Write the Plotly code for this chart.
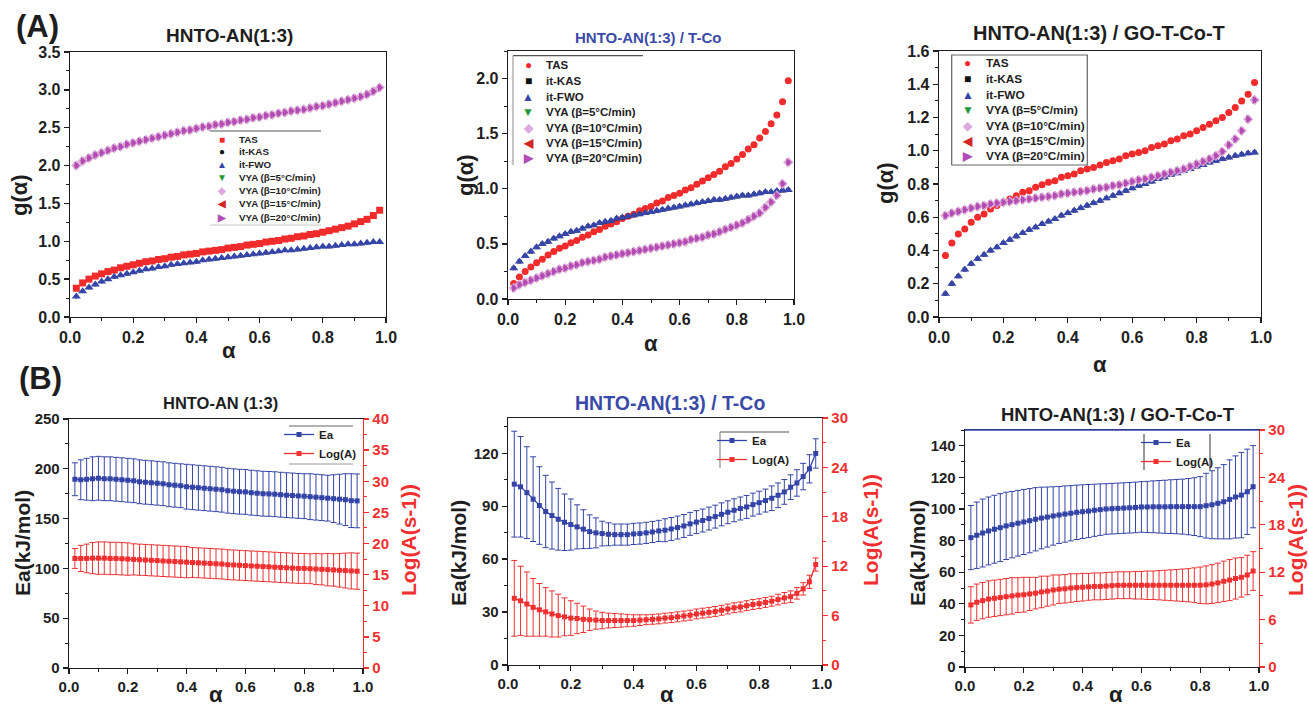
import plotly.graph_objects as go

# ---------------------------------------------------------------- data
alpha = [0.02, 0.04, 0.06, 0.08, 0.10, 0.12, 0.14, 0.16, 0.18, 0.20,
         0.22, 0.24, 0.26, 0.28, 0.30, 0.32, 0.34, 0.36, 0.38, 0.40,
         0.42, 0.44, 0.46, 0.48, 0.50, 0.52, 0.54, 0.56, 0.58, 0.60,
         0.62, 0.64, 0.66, 0.68, 0.70, 0.72, 0.74, 0.76, 0.78, 0.80,
         0.82, 0.84, 0.86, 0.88, 0.90, 0.92, 0.94, 0.96, 0.98]

# (A) HNTO-AN(1:3)
a1_tas = [0.38, 0.45, 0.50, 0.54, 0.57, 0.60, 0.62, 0.65, 0.67, 0.69,
          0.71, 0.73, 0.74, 0.76, 0.77, 0.79, 0.80, 0.82, 0.83, 0.84,
          0.86, 0.87, 0.88, 0.89, 0.91, 0.92, 0.93, 0.95, 0.96, 0.97,
          0.99, 1.00, 1.01, 1.03, 1.04, 1.06, 1.07, 1.09, 1.10, 1.12,
          1.14, 1.16, 1.18, 1.20, 1.23, 1.26, 1.29, 1.34, 1.41]
a1_fwo = [0.27, 0.34, 0.39, 0.43, 0.47, 0.50, 0.53, 0.55, 0.57, 0.59,
          0.61, 0.63, 0.64, 0.66, 0.67, 0.69, 0.70, 0.71, 0.72, 0.73,
          0.75, 0.76, 0.77, 0.78, 0.79, 0.80, 0.81, 0.82, 0.83, 0.84,
          0.85, 0.86, 0.87, 0.88, 0.88, 0.89, 0.90, 0.91, 0.92, 0.93,
          0.93, 0.94, 0.95, 0.96, 0.96, 0.97, 0.98, 0.99, 0.99]
a1_kas = list(a1_fwo)      # it-KAS points sit exactly under it-FWO
a1_vya = [2.00, 2.06, 2.10, 2.14, 2.17, 2.20, 2.23, 2.25, 2.28, 2.30,
          2.32, 2.34, 2.36, 2.38, 2.40, 2.42, 2.44, 2.46, 2.47, 2.49,
          2.51, 2.52, 2.54, 2.55, 2.57, 2.58, 2.60, 2.61, 2.63, 2.64,
          2.66, 2.67, 2.69, 2.70, 2.72, 2.73, 2.74, 2.76, 2.78, 2.79,
          2.81, 2.83, 2.85, 2.87, 2.89, 2.91, 2.94, 2.98, 3.03]

# (A) HNTO-AN(1:3) / T-Co
a2_tas = [0.14, 0.20, 0.25, 0.29, 0.33, 0.36, 0.40, 0.43, 0.46, 0.48,
          0.51, 0.53, 0.56, 0.58, 0.61, 0.63, 0.66, 0.68, 0.70, 0.73,
          0.75, 0.77, 0.80, 0.82, 0.84, 0.87, 0.89, 0.92, 0.94, 0.96,
          0.99, 1.01, 1.04, 1.07, 1.10, 1.13, 1.16, 1.20, 1.23, 1.27,
          1.31, 1.36, 1.40, 1.46, 1.52, 1.59, 1.67, 1.79, 1.98]
a2_fwo = [0.28, 0.34, 0.39, 0.43, 0.47, 0.50, 0.52, 0.55, 0.57, 0.59,
          0.61, 0.62, 0.64, 0.66, 0.67, 0.69, 0.70, 0.71, 0.73, 0.74,
          0.75, 0.76, 0.77, 0.78, 0.79, 0.80, 0.81, 0.82, 0.83, 0.84,
          0.85, 0.86, 0.87, 0.88, 0.89, 0.90, 0.90, 0.91, 0.92, 0.93,
          0.94, 0.94, 0.95, 0.96, 0.97, 0.97, 0.98, 0.985, 0.99]
a2_kas = list(a2_fwo)
a2_vya = [0.10, 0.13, 0.15, 0.17, 0.19, 0.21, 0.23, 0.25, 0.27, 0.28,
          0.30, 0.31, 0.33, 0.34, 0.35, 0.36, 0.38, 0.39, 0.40, 0.41,
          0.42, 0.43, 0.44, 0.45, 0.46, 0.47, 0.48, 0.49, 0.50, 0.51,
          0.52, 0.54, 0.55, 0.56, 0.58, 0.59, 0.61, 0.63, 0.65, 0.67,
          0.69, 0.72, 0.75, 0.78, 0.83, 0.88, 0.94, 1.045, 1.24]

# (A) HNTO-AN(1:3) / GO-T-Co-T
a3_tas = [0.37, 0.445, 0.50, 0.53, 0.57, 0.60, 0.62, 0.65, 0.67, 0.69,
          0.71, 0.73, 0.75, 0.76, 0.78, 0.795, 0.81, 0.82, 0.84, 0.85,
          0.86, 0.88, 0.89, 0.90, 0.915, 0.93, 0.94, 0.95, 0.97, 0.98,
          0.99, 1.00, 1.02, 1.03, 1.04, 1.06, 1.07, 1.09, 1.10, 1.12,
          1.14, 1.16, 1.18, 1.20, 1.23, 1.26, 1.30, 1.34, 1.41]
a3_fwo = [0.14, 0.20, 0.245, 0.285, 0.32, 0.35, 0.375, 0.40, 0.42, 0.445,
          0.465, 0.485, 0.505, 0.525, 0.54, 0.56, 0.575, 0.59, 0.61, 0.625,
          0.64, 0.655, 0.67, 0.685, 0.70, 0.715, 0.73, 0.745, 0.76, 0.775,
          0.79, 0.80, 0.815, 0.83, 0.84, 0.855, 0.865, 0.88, 0.89, 0.905,
          0.915, 0.93, 0.94, 0.95, 0.96, 0.97, 0.978, 0.985, 0.99]
a3_kas = list(a3_fwo)
a3_vya = [0.61, 0.625, 0.635, 0.645, 0.655, 0.665, 0.67, 0.68, 0.685, 0.69,
          0.695, 0.70, 0.705, 0.71, 0.715, 0.72, 0.725, 0.73, 0.74, 0.745,
          0.75, 0.755, 0.76, 0.77, 0.775, 0.78, 0.79, 0.795, 0.805, 0.815,
          0.825, 0.83, 0.84, 0.85, 0.86, 0.87, 0.88, 0.89, 0.905, 0.92,
          0.935, 0.95, 0.97, 0.995, 1.035, 1.07, 1.12, 1.19, 1.305]

# (B) HNTO-AN (1:3)
b1_ea = [189.5, 189, 189.5, 190, 190.5, 190, 190, 189.5, 189, 188.5,
         188, 187, 186.5, 186, 185.5, 185, 184, 183.5, 183, 182,
         181.5, 181, 180.5, 180, 179.5, 179, 178, 177.5, 177, 176.8,
         176, 175.5, 175, 174.8, 174.5, 174, 173.5, 173.2, 172.8, 172.5,
         172, 171.5, 171, 170.5, 170, 169.5, 169, 168, 167.8]
b1_ea_err = [16.5, 20, 21, 22, 22, 22, 22, 22, 22, 22,
             22, 22, 22, 22, 22, 22, 22, 22, 22, 22.5,
             22.5, 22.5, 22.5, 22.5, 22.5, 22.5, 22.5, 22.5, 22.5, 22.5,
             22.5, 22.5, 22.5, 22.5, 22.5, 22.5, 22.5, 22.5, 22.5, 22.5,
             23, 23, 23, 23, 24, 25, 26, 27, 27]
b1_loga = [17.6, 17.6, 17.6, 17.65, 17.65, 17.65, 17.6, 17.6, 17.55, 17.5,
           17.45, 17.4, 17.35, 17.3, 17.25, 17.2, 17.15, 17.1, 17.05, 17.0,
           16.95, 16.9, 16.85, 16.8, 16.75, 16.7, 16.6, 16.55, 16.5, 16.45,
           16.4, 16.35, 16.3, 16.25, 16.2, 16.15, 16.1, 16.05, 16.0, 16.0,
           15.95, 15.9, 15.85, 15.8, 15.75, 15.7, 15.65, 15.6, 15.55]
b1_loga_err = [1.6, 2.1, 2.3, 2.5, 2.6, 2.6, 2.6, 2.6, 2.6, 2.6,
               2.5, 2.5, 2.5, 2.5, 2.5, 2.5, 2.5, 2.5, 2.5, 2.5,
               2.4, 2.4, 2.4, 2.4, 2.4, 2.4, 2.4, 2.4, 2.4, 2.4,
               2.4, 2.4, 2.4, 2.4, 2.4, 2.4, 2.4, 2.4, 2.4, 2.4,
               2.4, 2.5, 2.5, 2.6, 2.6, 2.7, 2.8, 2.9, 2.9]

# (B) HNTO-AN(1:3) / T-Co
b2_ea = [102.5, 101, 97.7, 94, 90.4, 87, 84.7, 82.6, 80.9, 79.6,
         78.3, 77, 75.6, 74.9, 74.5, 74.1, 73.9, 73.9, 73.9, 74.3,
         74.5, 74.9, 75.4, 76, 76.4, 77.1, 77.9, 78.8, 80, 81,
         81.9, 83, 84.1, 85.4, 86.6, 87.7, 88.7, 89.6, 90.9, 92,
         93.2, 94.5, 96.2, 98.1, 100.8, 103.2, 106.8, 111.2, 119.9]
b2_ea_err = [30, 28.5, 26, 24, 22, 20.5, 19, 17.5, 16, 14.5,
             12.5, 11, 9.5, 8.5, 7, 6.5, 6, 6, 6, 6,
             6, 6, 6, 6, 6.5, 6.5, 6.5, 6.5, 6.5, 6.5,
             6.5, 6.5, 6.5, 6.5, 6.5, 6.5, 6.5, 6.5, 6.5, 6.5,
             6.5, 7, 7, 7, 7, 7.5, 7.5, 8, 8.3]
b2_loga = [8.1, 7.8, 7.4, 7.0, 6.7, 6.45, 6.2, 6.0, 5.85, 5.7,
           5.65, 5.55, 5.5, 5.45, 5.4, 5.4, 5.4, 5.4, 5.4, 5.4,
           5.45, 5.5, 5.55, 5.6, 5.7, 5.75, 5.85, 5.95, 6.05, 6.2,
           6.3, 6.4, 6.5, 6.65, 6.8, 6.95, 7.05, 7.2, 7.35, 7.45,
           7.6, 7.75, 7.95, 8.15, 8.3, 8.7, 9.25, 10.1, 12.2]
b2_loga_err = [4.6, 4.2, 3.9, 3.5, 3.2, 2.95, 2.8, 2.6, 2.3, 2.1,
               1.85, 1.6, 1.3, 1.1, 1.0, 0.9, 0.85, 0.8, 0.75, 0.7,
               0.65, 0.6, 0.6, 0.6, 0.6, 0.6, 0.6, 0.6, 0.6, 0.6,
               0.6, 0.6, 0.6, 0.6, 0.6, 0.6, 0.6, 0.6, 0.6, 0.6,
               0.6, 0.6, 0.65, 0.65, 0.7, 0.7, 0.75, 0.8, 0.8]

# (B) HNTO-AN(1:3) / GO-T-Co-T
b3_ea = [81.9, 83.4, 84.8, 86.1, 87.2, 88.2, 89.3, 90.1, 91, 91.8,
         92.6, 93.5, 94.3, 94.9, 95.6, 96.2, 96.8, 97.3, 97.9, 98.3,
         98.7, 99.2, 99.6, 100, 100.2, 100.4, 100.6, 100.8, 101, 101.3,
         101.3, 101.4, 101.4, 101.4, 101.5, 101.5, 101.5, 101.5, 101.5, 101.5,
         102.1, 102.7, 103.6, 104.6, 106.1, 107.6, 108.8, 110.9, 114.1]
b3_ea_err = [20.3, 21, 21.5, 21.5, 21.5, 21.5, 21.3, 21, 20.8, 20.6,
             20.3, 20, 19.5, 19, 18.5, 18, 17.8, 17.5, 17.2, 17,
             16.8, 16.5, 16.3, 16, 16, 16, 16, 16, 16, 16,
             16.2, 16.4, 16.6, 16.8, 17, 17.2, 17.4, 17.8, 18.3, 19,
             20.5, 21.5, 22.5, 23.5, 25, 26, 27, 27, 26]
b3_loga = [7.86, 8.2, 8.4, 8.6, 8.7, 8.8, 8.9, 9.0, 9.1, 9.15,
           9.25, 9.35, 9.5, 9.6, 9.75, 9.85, 9.9, 10.0, 10.05, 10.1,
           10.15, 10.2, 10.2, 10.25, 10.3, 10.35, 10.35, 10.35, 10.35, 10.35,
           10.35, 10.35, 10.35, 10.35, 10.35, 10.35, 10.35, 10.35, 10.35, 10.35,
           10.4, 10.5, 10.65, 10.85, 11.0, 11.2, 11.35, 11.65, 12.15]
b3_loga_err = [2.3, 2.3, 2.3, 2.3, 2.3, 2.3, 2.3, 2.3, 2.2, 2.2,
               2.1, 2.0, 2.0, 1.9, 1.9, 1.8, 1.8, 1.8, 1.75, 1.75,
               1.7, 1.7, 1.7, 1.7, 1.7, 1.7, 1.7, 1.7, 1.75, 1.75,
               1.8, 1.8, 1.85, 1.9, 1.95, 2.0, 2.05, 2.1, 2.2, 2.3,
               2.4, 2.45, 2.5, 2.55, 2.6, 2.6, 2.5, 2.5, 2.45]

series_names = ["TAS", "it-KAS", "it-FWO", "VYA (β=5°C/min)", "VYA (β=10°C/min)",
                "VYA (β=15°C/min)", "VYA (β=20°C/min)"]
titles_a = ["HNTO-AN(1:3)", "HNTO-AN(1:3) / T-Co", "HNTO-AN(1:3) / GO-T-Co-T"]
titles_b = ["HNTO-AN (1:3)", "HNTO-AN(1:3) / T-Co", "HNTO-AN(1:3) / GO-T-Co-T"]

# ---------------------------------------------------------------- style
W, H = 1309, 707
FONT = "Liberation Sans, Arial, Helvetica, sans-serif"
AX = "#1e1e1e"
RED = "#f02b2b"
BLACK = "#111111"
BLUE = "#3545a8"
GREEN = "#1f9a3a"
PINK = "#dba9dc"
RED2 = "#d42626"
PURPLE = "#b04cb8"
TITLE_BLUE = "#3a4aa8"
EA_BLUE = "#3444a6"
LA_RED = "#f03030"
colors_a = [RED, BLACK, BLUE, GREEN, PINK, RED2, PURPLE]
sizes_a = [7, 4, 8, 5, 8, 5, 7]
syms_1 = ["square", "circle", "triangle-up", "triangle-down", "diamond", "triangle-left", "triangle-right"]
syms_23 = ["circle", "square", "triangle-up", "triangle-down", "diamond", "triangle-left", "triangle-right"]
glyph = {"square": "■", "circle": "●", "triangle-up": "▲", "triangle-down": "▼",
         "diamond": "◆", "triangle-left": "◀", "triangle-right": "▶"}


def fx(p):
    return p / W


def fy(p):
    return 1 - p / H


fig = go.Figure()

# ---------------------------------------------------------------- (A) traces
panels_a = [
    ("x", "y", [a1_tas, a1_kas, a1_fwo, a1_vya, a1_vya, a1_vya, a1_vya], syms_1),
    ("x2", "y2", [a2_tas, a2_kas, a2_fwo, a2_vya, a2_vya, a2_vya, a2_vya], syms_23),
    ("x3", "y3", [a3_tas, a3_kas, a3_fwo, a3_vya, a3_vya, a3_vya, a3_vya], syms_23),
]
for xa, ya, series, syms in panels_a:
    for name, vals, sym, col, size in zip(series_names, series, syms, colors_a, sizes_a):
        fig.add_trace(go.Scatter(
            x=alpha, y=vals, mode="markers", name=name, xaxis=xa, yaxis=ya,
            showlegend=False,
            marker=dict(symbol=sym, size=size, color=col, line=dict(width=0))))

# ---------------------------------------------------------------- (B) traces
panels_b = [
    ("x4", "y4", "y7", b1_ea, b1_ea_err, b1_loga, b1_loga_err, "legend"),
    ("x5", "y5", "y8", b2_ea, b2_ea_err, b2_loga, b2_loga_err, "legend2"),
    ("x6", "y6", "y9", b3_ea, b3_ea_err, b3_loga, b3_loga_err, "legend3"),
]
for xa, ya, ya2, ea, eae, la, lae, leg in panels_b:
    fig.add_trace(go.Scatter(
        x=alpha, y=ea, name="Ea", mode="lines+markers", xaxis=xa, yaxis=ya, legend=leg,
        line=dict(color=EA_BLUE, width=1.3),
        marker=dict(symbol="square", size=5, color=EA_BLUE),
        error_y=dict(type="data", array=eae, visible=True, color=EA_BLUE, thickness=1, width=3)))
    fig.add_trace(go.Scatter(
        x=alpha, y=la, name="Log(A)", mode="lines+markers", xaxis=xa, yaxis=ya2, legend=leg,
        line=dict(color=LA_RED, width=1.3),
        marker=dict(symbol="square", size=5, color=LA_RED),
        error_y=dict(type="data", array=lae, visible=True, color=LA_RED, thickness=1, width=3)))


# ---------------------------------------------------------------- axes
def axis(rng, dtick, mdtick, fmt, size, color=AX, mirror=True, **kw):
    d = dict(range=rng, dtick=dtick, tick0=0, tickformat=fmt, automargin=False,
             showline=True, linecolor=color, linewidth=1.3, mirror=mirror,
             ticks="outside", ticklen=5, tickwidth=1.3, tickcolor=color,
             showgrid=False, zeroline=False, fixedrange=True,
             tickfont=dict(family=FONT, size=size, color=color, weight="bold"),
             minor=dict(dtick=mdtick, tick0=0, ticks="outside", ticklen=3,
                        tickwidth=1, tickcolor=color, showgrid=False))
    d.update(kw)
    return d


def xdom(a, b):
    return [fx(a), fx(b)]


def ydom(top, bottom):
    return [fy(bottom), fy(top)]


layout = dict(
    template="none",
    width=W, height=H, margin=dict(l=0, r=0, t=0, b=0, pad=0, autoexpand=False),
    paper_bgcolor="white", plot_bgcolor="white", showlegend=True,
    font=dict(family=FONT, color=AX),
    xaxis=axis([0, 1.0], 0.2, 0.1, ".1f", 16, domain=xdom(70, 386), anchor="y"),
    yaxis=axis([0, 3.5], 0.5, 0.25, ".1f", 16, domain=ydom(52, 317), anchor="x"),
    xaxis2=axis([0, 1.0], 0.2, 0.1, ".1f", 16, domain=xdom(508, 794), anchor="y2"),
    yaxis2=axis([0, 2.25], 0.5, 0.25, ".1f", 16, domain=ydom(51, 299), anchor="x2"),
    xaxis3=axis([0, 1.0], 0.2, 0.1, ".1f", 16, domain=xdom(939, 1261), anchor="y3"),
    yaxis3=axis([0, 1.6], 0.2, 0.1, ".1f", 16, domain=ydom(51, 317), anchor="x3"),
    xaxis4=axis([0, 1.0], 0.2, 0.1, ".1f", 15, domain=xdom(69, 363), anchor="y4"),
    yaxis4=axis([0, 250], 50, 25, "d", 15, mirror=False, domain=ydom(419, 668), anchor="x4"),
    yaxis7=axis([0, 40], 5, 2.5, "d", 15, color=LA_RED, mirror=False,
                overlaying="y4", side="right", anchor="x4"),
    xaxis5=axis([0, 1.0], 0.2, 0.1, ".1f", 15, domain=xdom(508, 822), anchor="y5"),
    yaxis5=axis([0, 140], 30, 15, "d", 15, mirror=False, domain=ydom(418, 665), anchor="x5"),
    yaxis8=axis([0, 30], 6, 3, "d", 15, color=LA_RED, mirror=False,
                overlaying="y5", side="right", anchor="x5"),
    xaxis6=axis([0, 1.0], 0.2, 0.1, ".1f", 15, domain=xdom(965, 1259), anchor="y6"),
    yaxis6=axis([0, 150], 20, 10, "d", 15, mirror=False, domain=ydom(430, 667), anchor="x6"),
    yaxis9=axis([0, 30], 6, 3, "d", 15, color=LA_RED, mirror=False,
                overlaying="y6", side="right", anchor="x6"),
)

leg_common = dict(xanchor="left", yanchor="top", bgcolor="rgba(255,255,255,0)",
                  borderwidth=0, itemwidth=30,
                  font=dict(family=FONT, size=11.5, color=AX, weight="bold"))
layout["legend"] = dict(x=fx(279), y=fy(420), **leg_common)
layout["legend2"] = dict(x=fx(712), y=fy(426), **leg_common)
layout["legend3"] = dict(x=fx(1136), y=fy(428), **leg_common)

# ---------------------------------------------------------------- text
ann = []


def text(t, x, y, size, color=AX, angle=0, xanchor="center", weight="bold"):
    ann.append(dict(text=t, x=fx(x), y=fy(y), xref="paper", yref="paper",
                    showarrow=False, xanchor=xanchor, yanchor="middle", textangle=angle,
                    font=dict(family=FONT, size=size, color=color, weight=weight)))


text("(A)", 37, 26, 31)
text("(B)", 40, 378, 31)

text(titles_a[0], 229, 35, 19)
text(titles_a[1], 648, 37, 15, color=TITLE_BLUE)
text(titles_a[2], 1099, 33, 20)
text(titles_b[0], 220, 403, 16.5)
text(titles_b[1], 670, 403, 19.5, color=TITLE_BLUE)
text(titles_b[2], 1118, 415, 18.5)

for xc, yc in [(20, 195), (465, 175), (886, 183)]:
    text("g(α)", xc, yc, 22, angle=-90)
for xc, yc in [(229, 350), (651, 343), (1100, 365), (216, 694), (667, 694), (1116, 694)]:
    text("α", xc, yc, 22)
for xc, yc in [(22, 543), (458, 553), (917, 553)]:
    text("Ea(kJ/mol)", xc, yc, 21, angle=-90)
for xc, yc in [(408, 540), (870, 530), (1295, 540)]:
    text("Log(A(s-1))", xc, yc, 21, color=LA_RED, angle=-90)

# glyph legends of the (A) panels
a_legends = [
    (syms_1, 221.7, 236.7, [139, 151.7, 164.7, 177.7, 190.7, 203.7, 217], 9.8, 10),
    (syms_23, 528.3, 544.3, [65, 80.7, 96.7, 112.3, 127.7, 143.3, 158.3], 11.5, 12),
    (syms_23, 967.7, 984.3, [63.3, 79.3, 95, 110.3, 125.7, 141.3, 156.3], 11.8, 12),
]
for syms, xm, xt, ys, fsize, gsize in a_legends:
    for sym, col, name, yy in zip(syms, colors_a, series_names, ys):
        text(glyph[sym], xm, yy, gsize, color=col)
        text(name, xt, yy, fsize, xanchor="left")

layout["annotations"] = ann


# ---------------------------------------------------------------- legend frames
def line(x0, y0, x1, y1, color="#666666", width=1):
    return dict(type="line", xref="paper", yref="paper",
                x0=fx(x0), y0=fy(y0), x1=fx(x1), y1=fy(y1),
                line=dict(color=color, width=width))


layout["shapes"] = [
    line(210, 131, 321, 131, "#555555", 1.2),
    line(210, 225, 321, 225, "#c8c8c8", 1),
    line(513, 55.7, 643, 55.7, "#555555", 1.2),
    line(513, 55.7, 513, 165, "#888888", 1),
    dict(type="rect", xref="paper", yref="paper", x0=fx(951.7), x1=fx(1087.3),
         y0=fy(165), y1=fy(55), line=dict(color="#666666", width=1.2)),
    line(289, 426, 353, 426, "#666666", 1.2),
    line(289, 464, 353, 464, "#999999", 1),
    line(720, 432, 789, 432, "#555555", 1.2),
    line(720, 432, 720, 468, "#777777", 1),
    line(1144, 434, 1144, 470, "#555555", 1.2),
    line(1210, 434, 1210, 470, "#555555", 1.2),
    dict(type="line", xref="x6 domain", yref="y6 domain", x0=0, x1=1, y0=1, y1=1,
         line=dict(color=EA_BLUE, width=1.6)),
]

fig.update_layout(**layout)
fig.write_html(
    "out.html",
    config={"displayModeBar": False, "staticPlot": True},
    post_script="document.body.style.margin='0';document.body.style.overflow='hidden';",
)
